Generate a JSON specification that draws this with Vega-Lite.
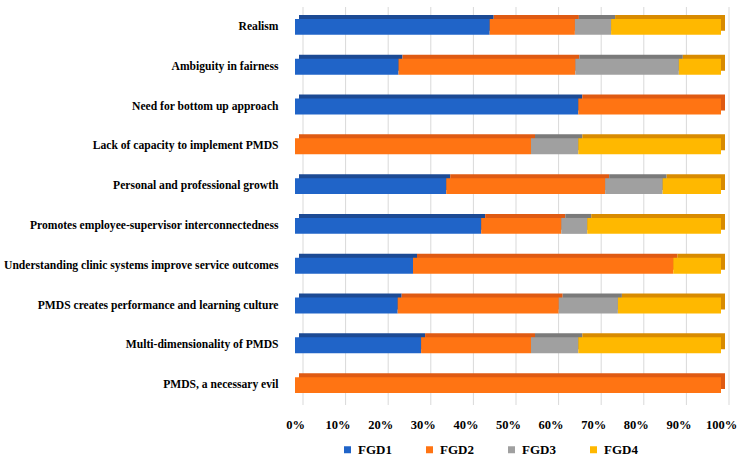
{
  "$schema": "https://vega.github.io/schema/vega-lite/v6.json",
  "width": 426,
  "height": 398,
  "autosize": {"type": "none"},
  "padding": {"left": 295, "top": 7, "right": 29, "bottom": 60},
  "background": "white",
  "config": {
    "font": "Liberation Serif",
    "view": {"stroke": null}
  },
  "resolve": {"scale": {"color": "independent"}, "legend": {"color": "independent"}},
  "datasets": {
    "shares": [
      {"theme": "Realism", "group": "FGD1", "pct": 45.7},
      {"theme": "Realism", "group": "FGD2", "pct": 20.0},
      {"theme": "Realism", "group": "FGD3", "pct": 8.5},
      {"theme": "Realism", "group": "FGD4", "pct": 25.8},
      {"theme": "Ambiguity in fairness", "group": "FGD1", "pct": 24.3},
      {"theme": "Ambiguity in fairness", "group": "FGD2", "pct": 41.5},
      {"theme": "Ambiguity in fairness", "group": "FGD3", "pct": 24.3},
      {"theme": "Ambiguity in fairness", "group": "FGD4", "pct": 9.9},
      {"theme": "Need for bottom up approach", "group": "FGD1", "pct": 66.5},
      {"theme": "Need for bottom up approach", "group": "FGD2", "pct": 33.5},
      {"theme": "Lack of capacity to implement PMDS", "group": "FGD2", "pct": 55.4},
      {"theme": "Lack of capacity to implement PMDS", "group": "FGD3", "pct": 11.1},
      {"theme": "Lack of capacity to implement PMDS", "group": "FGD4", "pct": 33.5},
      {"theme": "Personal and professional growth", "group": "FGD1", "pct": 35.5},
      {"theme": "Personal and professional growth", "group": "FGD2", "pct": 37.3},
      {"theme": "Personal and professional growth", "group": "FGD3", "pct": 13.5},
      {"theme": "Personal and professional growth", "group": "FGD4", "pct": 13.7},
      {"theme": "Promotes employee-supervisor interconnectedness", "group": "FGD1", "pct": 43.7},
      {"theme": "Promotes employee-supervisor interconnectedness", "group": "FGD2", "pct": 18.8},
      {"theme": "Promotes employee-supervisor interconnectedness", "group": "FGD3", "pct": 6.1},
      {"theme": "Promotes employee-supervisor interconnectedness", "group": "FGD4", "pct": 31.4},
      {"theme": "Understanding clinic systems improve service outcomes", "group": "FGD1", "pct": 27.7},
      {"theme": "Understanding clinic systems improve service outcomes", "group": "FGD2", "pct": 61.1},
      {"theme": "Understanding clinic systems improve service outcomes", "group": "FGD4", "pct": 11.2},
      {"theme": "PMDS creates performance and learning culture", "group": "FGD1", "pct": 24.1},
      {"theme": "PMDS creates performance and learning culture", "group": "FGD2", "pct": 37.8},
      {"theme": "PMDS creates performance and learning culture", "group": "FGD3", "pct": 13.9},
      {"theme": "PMDS creates performance and learning culture", "group": "FGD4", "pct": 24.2},
      {"theme": "Multi-dimensionality of PMDS", "group": "FGD1", "pct": 29.6},
      {"theme": "Multi-dimensionality of PMDS", "group": "FGD2", "pct": 25.8},
      {"theme": "Multi-dimensionality of PMDS", "group": "FGD3", "pct": 11.1},
      {"theme": "Multi-dimensionality of PMDS", "group": "FGD4", "pct": 33.5},
      {"theme": "PMDS, a necessary evil", "group": "FGD2", "pct": 100}
    ],
    "ticks": [
      {"v": 0}, {"v": 10}, {"v": 20}, {"v": 30}, {"v": 40}, {"v": 50},
      {"v": 60}, {"v": 70}, {"v": 80}, {"v": 90}, {"v": 100}
    ]
  },
  "layer": [
    {
      "data": {"name": "ticks"},
      "mark": {"type": "rule", "color": "#d9d9d9", "strokeWidth": 1, "xOffset": 8},
      "encoding": {
        "x": {"field": "v", "type": "quantitative"}
      }
    },
    {
      "data": {"name": "shares"},
      "mark": {"type": "bar", "xOffset": 4, "yOffset": -4},
      "encoding": {
        "y": {"field": "theme", "type": "nominal", "sort": null},
        "x": {"field": "pct", "type": "quantitative", "stack": "zero"},
        "order": {"field": "group"},
        "color": {
          "field": "group",
          "type": "nominal",
          "scale": {
            "domain": ["FGD1", "FGD2", "FGD3", "FGD4"],
            "range": ["#1c4a94", "#df5a12", "#7a7a7a", "#d88b00"]
          },
          "legend": null
        }
      }
    },
    {
      "data": {"name": "shares"},
      "mark": {"type": "bar"},
      "encoding": {
        "y": {
          "field": "theme",
          "type": "nominal",
          "sort": null,
          "scale": {"paddingInner": 0.6, "paddingOuter": 0.3},
          "axis": {
            "title": null,
            "domain": false,
            "ticks": false,
            "labelPadding": 17,
            "labelFont": "Liberation Serif",
            "labelFontWeight": "bold",
            "labelFontSize": 11.6,
            "labelColor": "#000000",
            "labelLimit": 400
          }
        },
        "x": {
          "field": "pct",
          "type": "quantitative",
          "stack": "zero",
          "scale": {"domain": [0, 100], "nice": false},
          "axis": {
            "title": null,
            "values": [0, 10, 20, 30, 40, 50, 60, 70, 80, 90, 100],
            "labelExpr": "datum.value + '%'",
            "grid": false,
            "domain": false,
            "ticks": false,
            "labelPadding": 13,
            "labelDx": -4,
            "labelFont": "Liberation Serif",
            "labelFontWeight": "bold",
            "labelFontSize": 12.5,
            "labelColor": "#000000",
            "labelFlush": false
          }
        },
        "order": {"field": "group"},
        "color": {
          "field": "group",
          "type": "nominal",
          "scale": {
            "domain": ["FGD1", "FGD2", "FGD3", "FGD4"],
            "range": ["#2064c8", "#ff7413", "#a0a0a0", "#ffb800"]
          },
          "legend": {
            "title": null,
            "orient": "none",
            "direction": "horizontal",
            "legendX": 46,
            "legendY": 436,
            "symbolType": "square",
            "symbolSize": 49,
            "symbolStrokeWidth": 0,
            "labelOffset": 4,
            "columnPadding": 31,
            "labelFont": "Liberation Serif",
            "labelFontWeight": "bold",
            "labelFontSize": 13,
            "labelColor": "#000000"
          }
        }
      }
    }
  ]
}
